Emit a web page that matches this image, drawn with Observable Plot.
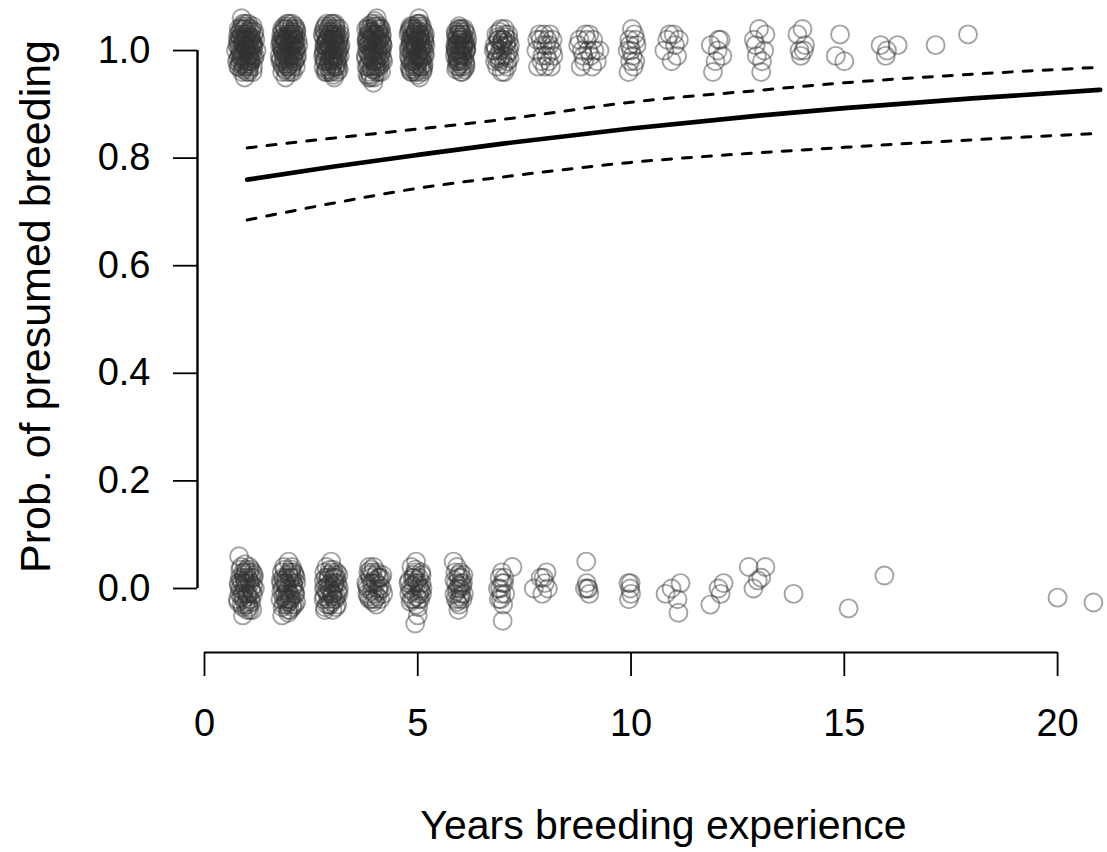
<!DOCTYPE html>
<html>
<head>
<meta charset="utf-8">
<script src="https://cdn.jsdelivr.net/npm/d3@7"></script>
<script src="https://cdn.jsdelivr.net/npm/@observablehq/plot@0.6"></script>
<style>
  html, body { margin: 0; padding: 0; background: #fff; }
  #chart svg { display: block; }
</style>
</head>
<body>
<div id="chart"></div>
<script>
const breeders = [
  // year 1
  [0.78,1.02],[0.85,0.98],[0.92,1.04],[1.05,0.97],[1.12,1.01],[0.88,0.96],[0.96,1.03],[1.18,0.99],[0.74,1.00],[1.02,1.05],
  [0.81,0.97],[0.99,1.02],[1.09,0.98],[0.93,1.04],[1.22,1.00],[0.86,0.99],[1.04,0.96],[0.79,1.03],[0.97,1.01],[1.14,0.97],
  [0.90,1.05],[1.07,0.98],[0.83,1.02],[1.00,1.00],[1.16,1.03],[0.76,0.98],[0.94,0.95],[1.11,1.01],[0.87,1.06],[1.03,0.99],
  [0.84,1.00],[0.91,1.01],[0.98,0.97],[1.06,1.02],[1.13,0.99],[0.80,1.04],[0.89,0.99],[0.95,1.02],[1.01,1.03],[1.08,1.00],
  [1.15,1.01],[0.82,0.99],[0.88,1.03],[0.97,0.98],[1.04,1.01],[1.10,1.04],[1.19,1.02],[0.77,1.01],[0.92,0.97],[1.00,0.96],
  [1.06,0.99],[0.85,1.04],[0.93,1.00],[1.02,0.98],[1.09,1.02],[1.13,0.96],[0.79,0.97],[0.96,1.05],[1.05,1.04],[0.90,1.02],
  [0.81,1.005],[0.87,0.985],[0.93,1.015],[0.99,0.975],[1.05,1.025],[1.11,0.995],[1.17,1.035],[0.84,1.035],[0.90,0.965],[0.96,1.005],
  [1.02,1.015],[1.08,0.985],[1.14,1.015],[0.79,0.985],[0.86,1.025],[0.92,0.995],[0.98,1.045],[1.04,0.965],[1.10,1.025],[1.16,0.985],
  [0.83,0.975],[0.89,1.015],[0.95,0.985],[1.01,1.035],[1.07,1.005],[1.13,1.045],[0.80,1.015],[0.88,1.045],[0.94,1.025],[1.00,0.985],
  [1.06,0.975],[1.12,1.015],[0.85,0.995],[0.91,0.975],[0.97,1.025],[1.03,0.995],[1.09,1.035],[1.15,1.005],[0.82,1.025],[0.99,1.005],
  // year 2
  [1.81,1.01],[1.95,0.97],[2.08,1.03],[2.17,0.99],[1.88,1.04],[2.02,0.96],[1.76,0.99],[2.12,1.02],[1.92,1.00],[2.05,1.05],
  [1.84,0.97],[2.20,1.01],[1.98,1.03],[1.79,1.02],[2.10,0.98],[1.90,0.95],[2.03,1.01],[2.15,1.04],[1.86,1.00],[1.97,0.98],
  [2.07,0.96],[1.82,1.04],[2.00,1.02],[2.13,1.00],[1.94,1.05],[1.78,0.98],[2.09,1.03],[1.89,1.02],[2.04,0.99],[1.96,0.97],
  [1.83,1.00],[1.91,1.02],[1.99,0.99],[2.06,1.01],[2.14,0.97],[1.80,1.03],[1.87,0.98],[1.95,1.03],[2.02,1.00],[2.11,1.04],
  [2.18,1.02],[1.85,1.01],[1.93,0.96],[2.01,1.04],[2.08,0.99],[2.16,1.00],[1.77,1.01],[1.89,0.99],[1.97,1.01],[2.04,0.97],
  [2.12,0.98],[1.82,0.96],[1.90,1.04],[1.98,1.05],[2.07,1.02],[2.14,1.03],[1.86,1.02],[1.94,0.99],[2.03,1.03],[2.10,1.01],
  [1.81,1.005],[1.86,0.985],[1.92,1.015],[1.98,0.975],[2.04,1.025],[2.10,0.995],[2.16,1.035],[1.83,1.035],[1.89,0.965],[1.95,1.005],
  [2.01,1.015],[2.07,0.985],[2.13,1.015],[1.79,0.985],[1.85,1.025],[1.91,0.995],[1.97,1.045],[2.03,0.965],[2.09,1.025],[2.15,0.985],
  [1.82,0.975],[1.88,1.015],[1.94,0.985],[2.00,1.035],[2.06,1.005],[2.12,1.045],[1.80,1.015],[1.87,1.045],[1.93,1.025],[1.99,0.985],
  [2.05,0.975],[2.11,1.015],[1.84,0.995],[1.90,0.975],[1.96,1.025],[2.02,0.995],[2.08,1.035],[2.14,1.005],[1.83,1.025],[1.99,1.005],
  // year 3
  [2.80,1.00],[2.93,1.03],[3.06,0.97],[3.15,1.02],[2.86,0.96],[3.01,1.04],[2.77,1.03],[3.11,0.99],[2.95,1.01],[3.04,0.95],
  [2.83,0.98],[3.19,1.01],[2.97,1.05],[2.89,1.02],[3.08,1.04],[2.79,0.97],[3.02,0.99],[3.13,0.97],[2.91,0.98],[2.99,1.02],
  [3.07,1.01],[2.84,1.03],[3.16,1.04],[2.94,0.96],[3.03,1.00],[2.87,1.05],[3.10,0.98],[2.81,1.01],[3.00,1.03],[2.96,0.99],
  [2.82,1.01],[2.90,1.00],[2.98,0.97],[3.05,1.02],[3.12,1.01],[2.78,0.99],[2.86,1.02],[2.94,1.03],[3.01,0.98],[3.09,1.03],
  [3.17,0.99],[2.83,0.96],[2.92,1.01],[3.00,1.05],[3.06,0.99],[3.14,1.00],[2.80,1.04],[2.88,0.97],[2.96,1.00],[3.04,1.03],
  [3.11,0.96],[2.85,1.00],[2.93,0.98],[3.02,1.02],[3.08,0.97],[3.18,1.03],[2.81,0.98],[2.90,1.04],[2.99,0.96],[3.06,1.05],
  [2.80,0.995],[2.86,1.015],[2.91,0.975],[2.97,1.035],[3.03,0.985],[3.09,1.025],[3.15,0.965],[2.83,1.045],[2.88,1.005],[2.94,0.985],
  [3.00,1.025],[3.06,1.015],[3.12,0.995],[2.79,1.025],[2.85,0.965],[2.90,1.035],[2.96,1.005],[3.02,0.975],[3.08,1.045],[3.14,1.015],
  [2.82,0.985],[2.87,0.995],[2.93,1.045],[2.99,1.015],[3.05,1.005],[3.11,0.975],[3.17,1.005],[2.84,1.015],[2.89,1.025],[2.95,0.965],
  [3.01,0.995],[3.07,1.035],[3.13,0.985],[2.81,1.035],[2.92,1.005],[2.98,0.985],[3.04,1.025],[3.10,1.005],[3.16,1.025],[3.03,0.955],
  // year 4
  [3.82,1.01],[3.95,0.98],[4.07,1.04],[4.16,1.00],[3.87,0.96],[4.02,1.03],[3.78,0.99],[4.12,1.02],[3.93,1.05],[4.05,0.97],
  [3.85,1.03],[4.19,0.98],[3.98,1.00],[3.90,0.95],[4.09,1.01],[3.80,1.02],[4.03,0.99],[4.14,1.04],[3.92,1.02],[4.00,0.97],
  [4.08,0.96],[3.84,1.04],[4.17,1.01],[3.96,0.94],[4.04,1.06],[3.88,0.99],[4.11,0.98],[3.83,0.97],[4.01,1.01],[3.97,1.03],
  [3.81,1.00],[3.89,1.02],[3.97,0.98],[4.04,1.02],[4.12,0.99],[3.79,1.04],[3.86,0.99],[3.94,1.01],[4.02,1.05],[4.09,0.97],
  [4.16,1.03],[3.84,1.01],[3.91,0.97],[3.99,1.03],[4.06,1.00],[4.14,0.96],[3.80,0.97],[3.88,1.04],[3.96,0.99],[4.03,0.96],
  [4.11,1.04],[3.85,0.95],[3.93,1.00],[4.01,0.98],[4.08,1.03],[4.18,1.01],[3.83,1.02],[3.92,1.03],[3.98,0.95],[4.07,1.02],
  [3.80,1.015],[3.85,0.975],[3.91,1.035],[3.97,0.995],[4.03,1.045],[4.09,0.985],[4.15,1.025],[3.82,0.955],[3.88,1.005],[3.94,1.025],
  [4.00,0.965],[4.06,1.015],[4.12,1.005],[3.79,0.985],[3.84,1.045],[3.90,0.985],[3.96,1.015],[4.02,0.975],[4.08,1.035],[4.14,0.995],
  [3.81,1.025],[3.87,1.015],[3.93,0.965],[3.99,1.045],[4.05,1.005],[4.11,1.025],[4.17,0.985],[3.83,0.995],[3.89,0.955],[3.95,1.035],
  [4.01,1.025],[4.07,0.995],[4.13,0.975],[3.86,1.035],[3.92,0.995],[3.98,1.005],[4.04,0.985],[4.10,1.045],[4.16,1.015],[4.00,1.055],
  // year 5
  [4.80,1.00],[4.93,1.03],[5.06,0.97],[5.15,1.02],[4.86,0.96],[5.01,1.05],[4.78,1.03],[5.11,0.99],[4.95,1.01],[5.04,0.95],
  [4.83,0.98],[5.18,1.01],[4.97,1.04],[4.89,1.02],[5.08,1.03],[4.81,0.97],[5.02,0.99],[5.13,0.97],[4.91,0.98],[4.99,1.02],
  [5.07,1.00],[4.85,1.04],[4.94,0.96],[5.03,1.06],[4.87,1.01],[5.10,0.98],[4.98,0.99],[5.00,1.02],
  [4.82,1.01],[4.90,1.00],[4.98,0.97],[5.05,1.02],[5.12,1.01],[4.79,0.99],[4.87,1.03],[4.95,1.03],[5.02,0.98],[5.09,1.04],
  [5.16,0.99],[4.84,0.96],[4.92,1.01],[5.00,1.05],[5.06,0.99],[5.14,1.00],[4.81,1.04],[4.88,0.98],[4.96,1.00],[5.04,1.03],
  [5.11,0.96],[4.86,1.00],[4.93,0.97],[5.01,1.02],[5.08,0.97],[5.17,1.03],[4.83,1.02],[4.91,1.04],[4.99,0.96],[5.06,1.05],
  [4.79,1.005],[4.85,1.025],[4.90,0.985],[4.96,1.035],[5.02,0.995],[5.08,1.015],[5.14,0.975],[4.82,0.965],[4.88,1.045],[4.93,1.015],
  [4.99,0.975],[5.05,1.025],[5.11,1.005],[4.80,1.035],[4.86,0.995],[4.92,1.005],[4.98,1.025],[5.04,0.985],[5.10,1.045],[5.16,1.015],
  [4.81,0.985],[4.87,0.975],[4.94,1.035],[5.00,0.995],[5.06,1.015],[5.12,0.965],[5.17,0.995],[4.84,1.015],[4.89,1.025],[4.95,0.985],
  [5.01,1.045],[5.07,1.005],[5.13,1.035],[4.83,1.045],[4.91,0.965],[4.97,1.005],[5.03,1.035],[5.09,0.985],[5.15,1.025],[5.00,0.955],
  // year 6
  [5.88,1.01],[5.97,0.98],[6.06,1.03],[6.14,1.00],[5.92,0.97],[6.02,1.04],[5.90,1.02],[6.10,0.99],[5.95,1.04],[6.04,0.97],
  [5.99,1.01],[6.16,1.02],[5.93,0.99],[6.08,1.01],[5.89,1.00],[6.01,0.96],[6.12,0.97],[5.96,1.03],[6.05,1.00],[5.91,0.98],
  [6.00,1.02],[6.09,1.04],[5.94,1.01],[6.03,0.99],
  [5.90,1.00],[5.98,1.02],[6.05,0.98],[6.12,1.01],[5.93,1.03],[6.01,0.99],[6.08,1.02],[5.87,0.99],[5.96,0.97],[6.03,1.03],
  [6.11,0.98],[5.91,1.01],[5.99,1.04],[6.06,1.01],[6.14,1.03],[5.89,1.03],[5.97,1.00],[6.04,0.96],[6.13,1.00],[5.94,0.98],
  [5.88,1.005],[5.92,1.025],[5.96,0.985],[6.00,1.035],[6.04,0.995],[6.08,1.015],[6.12,0.975],[5.90,0.965],[5.94,1.015],[5.98,0.995],
  [6.02,1.025],[6.06,0.985],[6.10,1.035],[6.14,1.005],[5.89,1.035],[5.93,0.985],[5.97,1.045],[6.01,1.005],[6.05,1.025],[6.09,0.965],
  [6.13,1.015],[5.91,0.995],[5.99,0.975],[6.07,1.005],
  // year 7
  [6.80,1.01],[6.92,0.98],[7.05,1.03],[7.14,1.00],[6.86,0.97],[7.00,1.02],[6.78,1.00],[7.10,0.98],[6.95,1.04],[7.03,0.96],
  [6.89,1.02],[7.16,1.01],[6.98,0.99],[7.07,1.01],[6.84,1.03],[6.97,0.96],[7.12,1.03],[6.93,1.00],
  [6.82,1.00],[6.90,1.02],[6.99,1.02],[7.06,0.99],[7.13,1.02],[6.87,0.99],[6.96,1.01],[7.04,1.04],[7.09,0.97],[6.81,0.98],
  [6.83,1.005],[6.88,1.025],[6.94,0.985],[7.00,1.005],[7.06,1.025],[7.11,0.995],[6.85,0.985],[6.91,1.035],[6.97,1.015],[7.02,0.975],
  [7.08,1.015],[7.15,0.985],
  // year 8
  [7.78,1.00],[7.90,0.98],[8.04,1.02],[8.15,1.00],[7.85,1.03],[7.98,0.97],[8.10,1.03],[7.93,1.01],[8.07,0.98],[7.82,0.97],
  [8.01,1.01],[8.18,0.99],[7.96,1.03],[8.12,0.97],
  [7.80,1.02],[7.92,0.99],[8.02,0.99],[8.09,1.01],[7.88,1.02],[8.16,1.02],
  // year 9
  [8.76,1.01],[8.88,0.99],[9.02,1.03],[9.14,1.00],[8.82,0.97],[8.96,1.02],[9.09,0.97],[9.26,1.00],[8.93,1.03],[9.05,0.99],
  [8.79,1.02],[9.20,0.98],[8.85,1.00],[9.00,1.00],[9.11,1.02],[8.90,0.98],
  // year 10
  [9.92,1.00],[10.02,1.04],[10.10,0.98],[9.96,1.02],[10.06,0.97],[9.94,0.96],[10.13,1.01],[10.00,1.00],[10.08,1.03],[9.98,0.98],
  [9.97,1.01],[10.04,0.99],[10.11,1.02],
  // year 11
  [10.78,1.00],[10.90,1.03],[11.03,1.01],[11.12,1.02],[10.95,0.98],[11.08,0.99],[10.85,1.02],[11.00,1.03],
  // year 12
  [11.87,1.01],[11.98,0.98],[12.10,1.02],[12.03,1.00],[11.92,0.96],[12.14,0.99],[12.05,1.02],
  // year 13
  [12.88,1.02],[13.00,1.04],[13.12,1.00],[12.95,0.99],[13.07,0.98],[13.15,1.03],[12.92,1.01],[13.05,0.96],
  // year 14
  [13.90,1.03],[14.02,1.04],[13.95,1.00],[14.08,1.01],[13.98,0.99],[14.05,1.00],
  // sparse, 15+
  [14.90,1.03],[14.80,0.99],[15.00,0.98],[15.85,1.01],[15.97,0.99],[16.25,1.01],[16.00,1.00],[17.14,1.01],[17.90,1.03]
];

const nonBreeders = [
  // year 1
  [0.80,0.01],[0.92,-0.02],[1.05,0.03],[1.14,-0.01],[0.86,0.04],[1.00,-0.04],[0.78,-0.02],[1.10,0.02],[0.95,0.00],[1.03,-0.03],
  [0.83,0.02],[1.18,0.00],[0.97,0.03],[0.89,-0.01],[1.07,0.01],[0.81,0.06],[1.01,0.02],[1.12,-0.04],[0.90,-0.05],[0.99,-0.01],
  [1.08,-0.02],[0.94,0.01],
  [0.84,0.00],[0.93,0.02],[1.02,-0.01],[1.09,0.00],[0.87,-0.03],[0.96,-0.03],[1.05,0.04],[1.15,0.02],[0.82,-0.01],[0.91,0.03],
  [0.99,0.01],[1.06,-0.04],[0.88,0.01],[1.13,0.03],
  [0.81,0.005],[0.87,-0.015],[0.93,0.025],[0.99,-0.025],[1.05,0.015],[1.11,-0.005],[1.16,0.025],[0.84,0.035],[0.90,-0.035],[0.96,0.015],
  [1.02,-0.015],[1.08,0.035],[1.14,0.005],[0.79,-0.025],[0.86,0.015],[0.92,-0.005],[0.98,0.035],[1.04,-0.035],[1.10,-0.025],[0.95,0.045],
  // year 2
  [1.80,0.01],[1.93,-0.03],[2.06,0.02],[2.13,-0.01],[1.86,0.04],[2.00,-0.04],[1.78,-0.02],[2.10,0.03],[1.95,0.00],[2.03,-0.02],
  [1.84,0.02],[2.15,0.01],[1.97,0.05],[1.89,-0.01],[2.07,0.00],[1.82,-0.05],[2.01,0.02],[2.11,-0.03],[1.91,0.01],[1.99,-0.01],
  [2.05,0.04],[1.94,-0.02],
  [1.83,0.00],[1.92,0.02],[2.00,-0.02],[2.08,0.01],[1.86,-0.03],[1.96,-0.04],[2.04,0.03],[2.14,0.02],[1.81,0.03],[1.90,-0.02],
  [1.98,0.03],[2.06,-0.03],[1.88,0.01],[2.12,-0.01],
  [1.80,-0.005],[1.86,0.015],[1.91,-0.025],[1.97,0.025],[2.03,-0.015],[2.09,0.005],[2.15,-0.025],[1.83,-0.035],[1.88,0.035],[1.94,-0.005],
  [2.00,0.015],[2.06,-0.035],[2.12,0.025],[1.79,0.015],[1.85,-0.015],[1.92,0.005],[1.98,-0.025],[2.04,0.035],[2.10,-0.005],[1.96,-0.045],
  // year 3
  [2.80,0.00],[2.92,-0.03],[3.05,0.02],[3.14,-0.01],[2.86,0.04],[3.00,-0.04],[2.79,-0.02],[3.10,0.03],[2.95,0.01],[3.03,-0.02],
  [2.84,0.02],[3.15,0.00],[2.97,0.05],[2.89,-0.01],[3.07,0.01],[2.82,-0.04],[3.01,0.02],[3.11,-0.03],[2.93,0.00],[2.99,-0.01],
  [2.83,0.00],[2.91,0.02],[2.99,0.03],[3.07,-0.02],[2.87,-0.03],[2.95,-0.03],[3.04,0.01],[3.12,0.01],[2.81,0.03],[2.90,-0.02],
  [3.01,-0.01],[3.09,0.02],
  [2.80,0.015],[2.86,-0.005],[2.91,0.025],[2.97,-0.025],[3.03,0.005],[3.09,-0.015],[3.14,0.025],[2.83,-0.035],[2.88,0.015],[2.94,0.035],
  [3.00,-0.015],[3.06,0.025],[3.12,-0.005],[2.81,-0.015],[2.89,0.005],[2.96,-0.005],[3.02,0.035],[3.08,-0.035],
  // year 4
  [3.79,0.01],[3.92,-0.02],[4.05,0.03],[4.16,0.00],[3.86,0.04],[4.00,-0.02],[3.82,-0.01],[4.10,0.02],[3.95,0.01],[4.03,-0.03],
  [3.89,0.02],[4.19,-0.01],[3.97,0.04],[4.07,0.00],[3.84,0.03],[4.12,-0.02],
  [3.83,0.00],[3.91,0.01],[3.99,-0.01],[4.08,0.02],[3.87,-0.02],[3.94,0.03],[4.02,0.01],[4.14,0.02],
  [3.81,0.005],[3.87,0.025],[3.93,-0.005],[3.99,0.015],[4.05,-0.015],[4.11,0.005],[4.17,0.025],[3.84,-0.015],[3.90,0.035],[3.96,-0.025],
  [4.02,0.025],[4.09,-0.005],
  // year 5
  [4.78,0.01],[4.90,-0.02],[5.03,0.02],[5.11,0.00],[4.85,0.04],[4.97,-0.03],[4.80,-0.01],[5.08,0.03],[4.93,0.01],[5.02,-0.02],
  [4.88,0.02],[5.10,-0.01],[4.96,0.05],[5.00,-0.05],[4.94,-0.065],[5.05,0.00],
  [4.82,0.00],[4.91,0.02],[4.99,0.01],[5.06,-0.02],[4.86,-0.02],[4.95,0.03],[5.03,-0.01],[5.09,0.01],
  [4.80,0.015],[4.86,-0.005],[4.91,0.025],[4.97,-0.015],[5.03,0.005],[5.09,0.025],[4.83,-0.025],[4.89,0.005],[4.95,0.035],[5.01,-0.035],
  [5.07,-0.005],[4.98,0.015],
  // year 6
  [5.84,0.05],[5.93,0.00],[6.03,0.02],[6.08,-0.01],[5.88,0.03],[5.97,-0.03],[6.05,-0.02],[5.90,0.01],[6.00,0.03],[5.95,-0.04],
  [6.06,0.01],[5.86,-0.01],[5.99,0.00],
  [5.89,-0.02],[5.96,0.02],[6.02,-0.01],[5.92,0.04],[6.01,0.01],[5.98,-0.02],
  [5.86,0.015],[5.91,-0.005],[5.95,0.025],[6.00,-0.015],[6.04,0.005],[5.93,-0.025],[6.07,0.025],[5.97,0.005],
  // year 7
  [6.88,0.00],[6.95,-0.02],[7.02,0.01],[6.92,0.02],[7.00,-0.03],[6.97,0.03],[7.05,-0.01],[6.90,-0.02],[7.22,0.04],[6.99,-0.06],
  [6.93,0.00],[6.98,0.01],[7.03,0.02],[6.96,-0.01],
  // year 8
  [7.72,0.00],[7.88,0.02],[7.98,0.01],[8.05,0.00],[7.92,-0.01],[8.02,0.03],[7.95,0.02],
  // year 9
  [8.95,0.05],[8.92,0.00],[8.98,0.00],[9.02,-0.01],[8.96,0.01],[9.00,0.00],
  // year 10
  [9.94,0.01],[9.98,0.00],[10.00,-0.01],[9.95,-0.02],[9.99,0.01],
  // year 11
  [10.81,-0.01],[11.16,0.01],[11.09,-0.02],[11.11,-0.045],[10.95,0.00],
  // year 12
  [11.86,-0.03],[12.10,-0.01],[12.17,0.01],[12.05,0.00],
  // year 13
  [12.76,0.04],[13.15,0.04],[12.87,0.00],[12.97,0.015],[13.05,0.02],
  // sparse
  [13.81,-0.01],[15.10,-0.037],[15.94,0.024],[20.00,-0.017],[20.84,-0.026]
];

// fitted probability and confidence band, read at these years
const fitYears = [1, 3, 5, 7, 10, 13, 15, 18, 21];
const fitProb  = [0.760, 0.784, 0.806, 0.827, 0.855, 0.879, 0.893, 0.911, 0.927];
const fitUpper = [0.819, 0.837, 0.854, 0.872, 0.904, 0.926, 0.940, 0.956, 0.969];
const fitLower = [0.685, 0.716, 0.744, 0.765, 0.792, 0.810, 0.820, 0.834, 0.846];

const xTicks = [0, 5, 10, 15, 20];
const yTicks = [0.0, 0.2, 0.4, 0.6, 0.8, 1.0];
const xTitle = "Years breeding experience";
const yTitle = "Prob. of presumed breeding";

// ---- Build ----
const curve = fitYears.map((x, i) => ({x, fit: fitProb[i], upper: fitUpper[i], lower: fitLower[i]}));
const xLim = [-0.164, 21.17];
const yLim = [-0.119, 1.093];
const font = "'Liberation Sans', Arial, Helvetica, sans-serif";

const dotStyle = {x: d => d[0], y: d => d[1], r: 9, fill: "none", stroke: "#333", strokeOpacity: 0.45, strokeWidth: 1.9};

const chart = Plot.plot({
  width: 1107,
  height: 852,
  marginLeft: 197,
  marginRight: 0,
  marginTop: 0,
  marginBottom: 200,
  style: {fontFamily: font, background: "#fff", color: "#000"},
  x: {domain: xLim},
  y: {domain: yLim},
  marks: [
    Plot.dot(breeders, dotStyle),
    Plot.dot(nonBreeders, dotStyle),
    Plot.line(curve, {x: "x", y: "upper", stroke: "#000", strokeWidth: 3, strokeDasharray: "9,11", curve: "monotone-x"}),
    Plot.line(curve, {x: "x", y: "lower", stroke: "#000", strokeWidth: 3, strokeDasharray: "9,11", curve: "monotone-x"}),
    Plot.line(curve, {x: "x", y: "fit", stroke: "#000", strokeWidth: 4.6, curve: "monotone-x"}),
    Plot.axisY({ticks: yTicks, tickSize: 24, tickPadding: 23, tickFormat: d3.format(".1f"), fontSize: 38, label: null, strokeWidth: 1.8, stroke: "#000", fill: "#000"}),
    Plot.axisX({ticks: xTicks, tickSize: 24, tickPadding: 33, tickFormat: d3.format("d"), fontSize: 38, label: null, strokeWidth: 1.8, stroke: "#000", fill: "#000"}),
    // axis lines (R style: span first to last tick), drawn after the axes
    Plot.ruleX([xLim[0]], {y1: () => yTicks[0], y2: () => yTicks[yTicks.length - 1], stroke: "#000", strokeWidth: 2.4}),
    Plot.ruleY([yLim[0]], {x1: () => xTicks[0], x2: () => xTicks[xTicks.length - 1], stroke: "#000", strokeWidth: 1.8}),
    Plot.text([xTitle], {text: d => d, frameAnchor: "bottom", lineAnchor: "bottom", dx: 11, dy: 186, fontSize: 41, fill: "#000"}),
    Plot.text([yTitle], {text: d => d, frameAnchor: "left", textAnchor: "middle", lineAnchor: "bottom", rotate: -90, dx: -148, dy: -20, fontSize: 43, fill: "#000"})
  ]
});

document.getElementById("chart").appendChild(chart);
</script>
</body>
</html>
